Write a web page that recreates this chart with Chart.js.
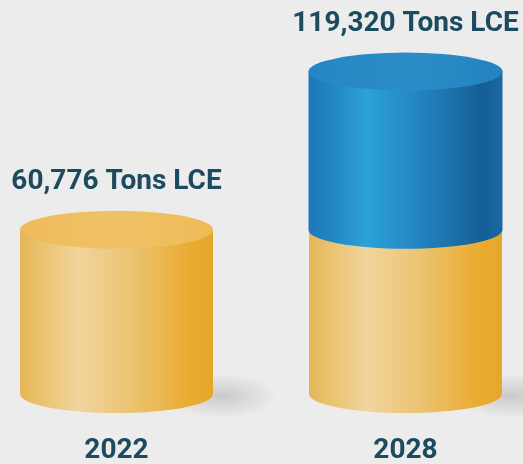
<!DOCTYPE html>
<html>
<head>
<meta charset="utf-8">
<script src="https://cdn.jsdelivr.net/npm/chart.js@4.4.1/dist/chart.umd.min.js"></script>
<style>
  html, body { margin: 0; padding: 0; background: #ececec; }
  #wrap { width: 523px; height: 464px; position: relative; }
</style>
</head>
<body>
<div id="wrap"><canvas id="c"></canvas></div>
<script>
// Lithium production, tons of lithium carbonate equivalent
const years = ['2022', '2028'];
const currentOutput = [60776, 60776];   // yellow segment
const addedOutput = [null, 58544];      // blue segment (growth to 2028)
const unitSuffix = ' Tons LCE';

const textColor = '#1c4a5e';
const RY = 19; // vertical radius of the cylinder ellipses

const palettes = [
  {
    side: [[0, '#e5b559'], [0.08, '#e9bf69'], [0.3, '#f1d49d'], [0.55, '#ecc576'], [0.86, '#eaad35'], [1, '#e5a62a']],
    top: [[0, '#eebb5a'], [0.5, '#f0c266'], [1, '#eebb58']]
  },
  {
    side: [[0, '#1b78b7'], [0.1, '#2283c2'], [0.3, '#2ba1d9'], [0.55, '#2486c3'], [0.9, '#155e96'], [1, '#1a69a2']],
    top: [[0, '#2686c3'], [0.5, '#2b8dc8'], [1, '#2483c0']]
  }
];

function hGrad(ctx, l, r, stops) {
  const g = ctx.createLinearGradient(l, 0, r, 0);
  stops.forEach(([o, c]) => g.addColorStop(o, c));
  return g;
}

function barProps(el) {
  return el.getProps(['x', 'y', 'base', 'width'], true);
}

const cylinderPlugin = {
  id: 'cylinders',
  beforeDatasetsDraw(chart) {
    const ctx = chart.ctx;
    const meta0 = chart.getDatasetMeta(0);
    meta0.data.forEach(el => {
      const p = barProps(el);
      const r = p.x + p.width / 2;
      ctx.save();
      ctx.translate(r + 8, p.base + 2);
      ctx.scale(1, 0.4);
      const g = ctx.createRadialGradient(0, 0, 0, 0, 0, 55);
      g.addColorStop(0, 'rgba(130,130,130,0.32)');
      g.addColorStop(1, 'rgba(130,130,130,0)');
      ctx.fillStyle = g;
      ctx.beginPath();
      ctx.arc(0, 0, 55, 0, Math.PI * 2);
      ctx.fill();
      ctx.restore();
    });
  },
  afterDatasetsDraw(chart) {
    const ctx = chart.ctx;
    const n = chart.data.labels.length;
    for (let i = 0; i < n; i++) {
      let topEl = null, topPal = null, total = 0;
      chart.data.datasets.forEach((ds, di) => {
        const v = ds.data[i];
        if (v == null) return;
        total += v;
        const p = barProps(chart.getDatasetMeta(di).data[i]);
        const pal = palettes[di];
        const l = p.x - p.width / 2, r = p.x + p.width / 2, rx = p.width / 2;
        ctx.save();
        ctx.fillStyle = hGrad(ctx, l, r, pal.side);
        ctx.beginPath();
        ctx.moveTo(l, p.y);
        ctx.lineTo(l, p.base);
        ctx.ellipse(p.x, p.base, rx, RY, 0, Math.PI, 0, true);
        ctx.lineTo(r, p.y);
        ctx.closePath();
        ctx.fill();
        ctx.restore();
        topEl = p; topPal = pal;
      });
      if (!topEl) continue;
      const p = topEl;
      const l = p.x - p.width / 2, r = p.x + p.width / 2, rx = p.width / 2;
      ctx.save();
      ctx.fillStyle = hGrad(ctx, l, r, topPal.top);
      ctx.beginPath();
      ctx.ellipse(p.x, p.y, rx, RY, 0, 0, Math.PI * 2);
      ctx.fill();
      ctx.restore();

      ctx.save();
      ctx.fillStyle = textColor;
      ctx.font = 'bold 28px Roboto';
      ctx.textAlign = 'center';
      ctx.textBaseline = 'middle';
      ctx.fillText(total.toLocaleString('en-US') + unitSuffix, p.x, p.y - 48);
      ctx.restore();
    }
  }
};

new Chart(document.getElementById('c'), {
  type: 'bar',
  data: {
    labels: years,
    datasets: [
      { data: currentOutput, backgroundColor: 'rgba(0,0,0,0)', barThickness: 193 },
      { data: addedOutput, backgroundColor: 'rgba(0,0,0,0)', barThickness: 194 }
    ]
  },
  options: {
    responsive: true,
    maintainAspectRatio: false,
    animation: false,
    layout: { padding: { top: 40, bottom: 0, left: 116.5, right: 117.5 } },
    plugins: { legend: { display: false }, tooltip: { enabled: false } },
    scales: {
      x: {
        stacked: true,
        offset: false,
        grid: { display: false, drawTicks: false },
        border: { display: false },
        ticks: { color: textColor, font: { family: 'Roboto', size: 28, weight: 'bold' }, padding: 40 },
        afterFit(scale) { scale.height = 70; }
      },
      y: {
        stacked: true,
        display: false,
        min: 0,
        max: 131000
      }
    }
  },
  plugins: [cylinderPlugin]
});
</script>
</body>
</html>
